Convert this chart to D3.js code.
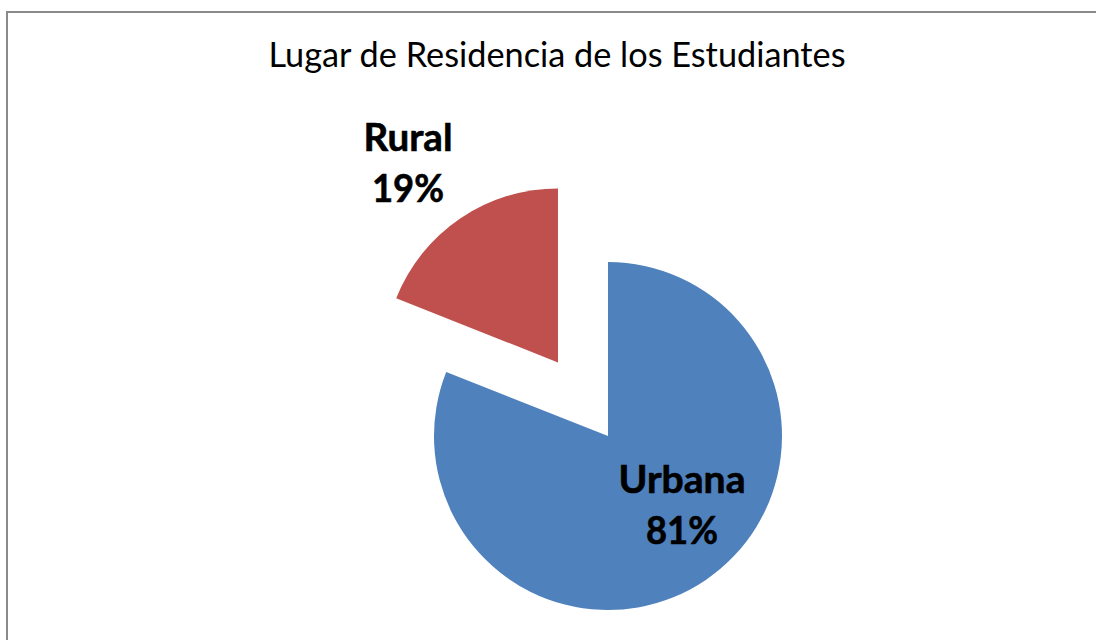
<!DOCTYPE html>
<html>
<head>
<meta charset="utf-8">
<script src="https://cdn.jsdelivr.net/npm/d3@7"></script>
<style>
  html, body { margin: 0; padding: 0; background: #fff; }
  svg { display: block; }
</style>
</head>
<body>
<svg id="chart" width="1096" height="640"></svg>
<script>
// data
var categories = ["Urbana", "Rural"];
var values = [81, 19];
var pctLabels = ["81%", "19%"];
var colors = ["#4F81BD", "#C0504D"];
var explode = [0, 89];

var svg = d3.select("#chart");
var width = +svg.attr("width");
var height = +svg.attr("height");

// chart frame (clipped by the window on right and bottom)
svg.append("rect")
  .attr("x", 7)
  .attr("y", 12)
  .attr("width", width + 20)
  .attr("height", height + 20)
  .attr("fill", "#fff")
  .attr("stroke", "#8a8a8a")
  .attr("stroke-width", 2);

svg.append("text")
  .attr("x", 557)
  .attr("y", 67)
  .attr("text-anchor", "middle")
  .attr("font-family", "Lato, 'Open Sans', sans-serif")
  .attr("font-size", 35)
  .attr("fill", "#000")
  .attr("textLength", 577)
  .attr("lengthAdjust", "spacingAndGlyphs")
  .text("Lugar de Residencia de los Estudiantes");

var cx = 608, cy = 436, radius = 174;

var data = categories.map(function(c, i) {
  return { name: c, value: values[i], pct: pctLabels[i], color: colors[i], explode: explode[i] };
});

var pie = d3.pie()
  .sort(null)
  .value(function(d) { return d.value; });

var arc = d3.arc()
  .innerRadius(0)
  .outerRadius(radius);

var g = svg.append("g")
  .attr("transform", "translate(" + cx + "," + cy + ")");

var arcs = pie(data);

g.selectAll(".slice")
  .data(arcs)
  .enter()
  .append("path")
  .attr("class", "slice")
  .attr("fill", function(d) { return d.data.color; })
  .attr("transform", function(d) {
    var mid = (d.startAngle + d.endAngle) / 2;
    var dx = Math.sin(mid) * d.data.explode;
    var dy = -Math.cos(mid) * d.data.explode;
    return "translate(" + dx + "," + dy + ")";
  })
  .attr("d", arc);

// data labels (best fit placement, like the original)
var labelPos = {
  "Urbana": { x: 74, y: 57, w1: 127, w2: 72 },
  "Rural": { x: -200, y: -285, w1: 89, w2: 72 }
};

arcs.forEach(function(d) {
  var p = labelPos[d.data.name];
  var t = g.append("g")
    .attr("transform", "translate(" + p.x + "," + p.y + ")")
    .attr("font-family", "Lato, 'Open Sans', sans-serif")
    .attr("font-weight", "bold")
    .attr("font-size", 38)
    .attr("fill", "#000")
    .attr("stroke", "#000")
    .attr("stroke-width", 0.6)
    .attr("text-anchor", "middle");
  t.append("text")
    .attr("y", 0)
    .attr("textLength", p.w1)
    .attr("lengthAdjust", "spacingAndGlyphs")
    .text(d.data.name);
  t.append("text")
    .attr("y", 51)
    .attr("textLength", p.w2)
    .attr("lengthAdjust", "spacingAndGlyphs")
    .text(d.data.pct);
});
</script>
</body>
</html>
